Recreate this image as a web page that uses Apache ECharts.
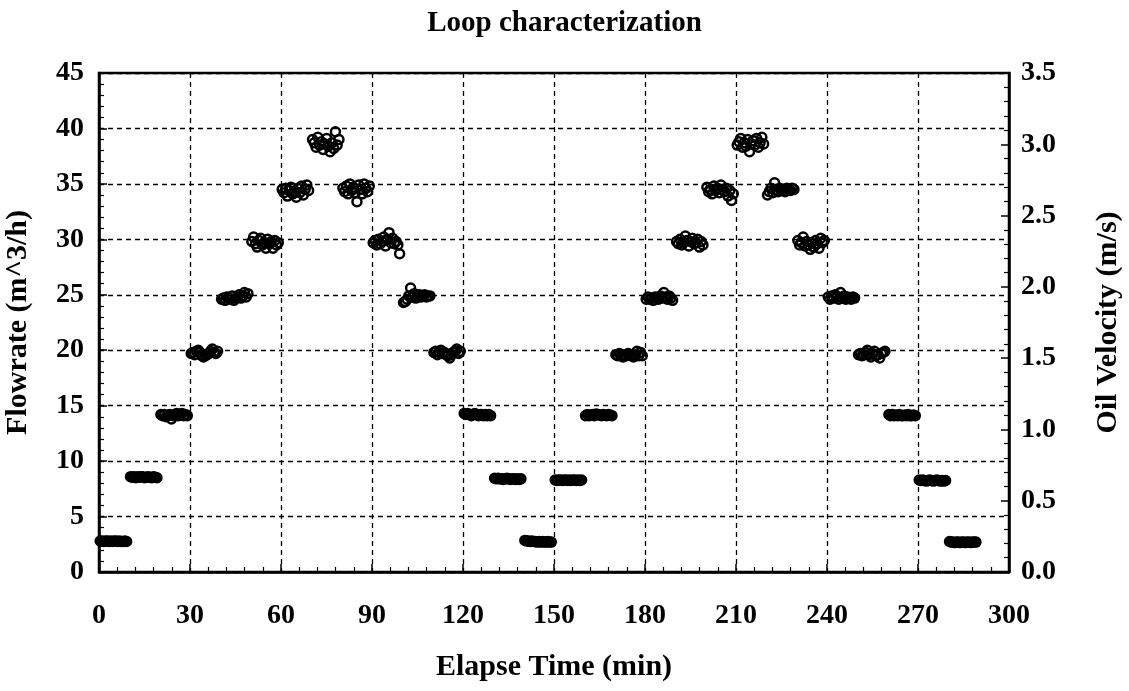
<!DOCTYPE html>
<html>
<head>
<meta charset="utf-8">
<script src="https://cdn.jsdelivr.net/npm/echarts@6/dist/echarts.min.js"></script>
<style>
  html, body { margin: 0; padding: 0; background: #fff; }
  #main { width: 1129px; height: 691px; }
</style>
</head>
<body>
<div id="main"></div>
<script>
// start of each flow step (min) and the sample spacing inside a step
var stepStart = [0, 10, 20, 30, 40, 50, 60, 70, 80, 90, 100, 110, 120, 130, 140,
                 150, 160, 170, 180, 190, 200, 210, 220, 230, 240, 250, 260, 270, 280];
var sampleOffset = 0.4;
var sampleInterval = 0.58;

// flowrate readings (m^3/h) for every step
var stepReadings = [
    [2.8, 2.8, 2.75, 2.8, 2.8, 2.75, 2.8, 2.75, 2.8, 2.8, 2.75, 2.8, 2.75, 2.75, 2.8, 2.75],
    [8.6, 8.55, 8.6, 8.5, 8.6, 8.55, 8.6, 8.6, 8.5, 8.55, 8.6, 8.55, 8.5, 8.6, 8.55, 8.5],
    [14.2, 14.1, 14.2, 14.0, 14.1, 14.2, 13.8, 14.1, 14.2, 14.3, 14.1, 14.2, 14.3, 14.1, 14.2, 14.1],
    [19.7, 19.8, 19.6, 19.9, 20.0, 19.8, 19.5, 19.4, 19.5, 19.6, 19.7, 19.9, 20.1, 19.8, 19.7, 19.9],
    [24.6, 24.7, 24.5, 24.8, 24.7, 24.6, 24.9, 24.5, 24.7, 24.8, 25.0, 24.7, 24.9, 25.2, 24.8, 25.1],
    [29.8, 30.2, 29.6, 29.3, 29.9, 30.1, 29.5, 29.7, 29.2, 30.0, 29.6, 29.8, 29.2, 29.9, 29.5, 29.7],
    [34.5, 34.2, 34.6, 33.9, 34.4, 34.7, 34.1, 34.3, 33.8, 34.6, 34.2, 34.8, 34.0, 34.5, 34.9, 34.4],
    [39.0, 38.7, 38.3, 39.2, 38.5, 38.8, 38.1, 38.6, 39.1, 38.4, 37.9, 38.7, 38.2, 39.7, 38.5, 39.0],
    [34.6, 34.3, 34.8, 34.1, 35.0, 34.4, 34.7, 34.2, 33.4, 34.9, 34.5, 34.1, 35.0, 34.6, 34.3, 34.8],
    [29.7, 29.9, 29.5, 30.0, 29.6, 29.8, 30.2, 29.4, 30.0, 30.6, 29.7, 30.1, 29.6, 29.8, 29.5, 28.7],
    [24.3, 24.4, 24.6, 24.9, 25.6, 24.8, 25.1, 24.7, 24.9, 25.0, 24.8, 24.9, 25.0, 24.8, 24.9, 24.9],
    [19.8, 19.9, 19.6, 19.8, 20.0, 19.7, 19.8, 19.6, 19.5, 19.3, 19.6, 19.8, 19.9, 20.1, 19.7, 19.9],
    [14.3, 14.2, 14.3, 14.2, 14.1, 14.2, 14.3, 14.2, 14.1, 14.2, 14.2, 14.1, 14.2, 14.1, 14.2, 14.1],
    [8.45, 8.4, 8.45, 8.4, 8.4, 8.35, 8.4, 8.45, 8.4, 8.35, 8.4, 8.4, 8.35, 8.4, 8.35, 8.4],
    [2.85, 2.8, 2.8, 2.75, 2.8, 2.75, 2.75, 2.7, 2.75, 2.7, 2.75, 2.7, 2.7, 2.75, 2.7, 2.7],
    [8.3, 8.25, 8.3, 8.3, 8.25, 8.3, 8.3, 8.25, 8.3, 8.25, 8.3, 8.3, 8.25, 8.3, 8.25, 8.3],
    [14.1, 14.2, 14.1, 14.15, 14.2, 14.1, 14.25, 14.2, 14.15, 14.1, 14.2, 14.15, 14.1, 14.2, 14.15, 14.1],
    [19.6, 19.5, 19.7, 19.5, 19.4, 19.6, 19.5, 19.7, 19.6, 19.5, 19.4, 19.6, 19.9, 19.5, 19.8, 19.5],
    [24.6, 24.8, 24.6, 24.7, 24.5, 24.8, 24.7, 24.6, 24.9, 24.7, 25.2, 24.8, 24.6, 24.9, 24.7, 24.5],
    [29.8, 29.6, 30.0, 29.5, 29.7, 30.3, 29.9, 29.4, 29.8, 30.1, 29.6, 29.7, 30.0, 29.3, 29.8, 29.5],
    [34.7, 34.3, 34.5, 34.1, 34.8, 34.4, 34.6, 34.2, 34.9, 34.5, 34.3, 34.6, 33.9, 34.4, 33.5, 34.1],
    [38.5, 38.8, 39.1, 38.3, 38.7, 38.4, 39.0, 37.9, 38.6, 38.9, 38.5, 39.1, 38.3, 38.7, 39.2, 38.6],
    [34.0, 34.3, 34.6, 34.2, 35.1, 34.5, 34.3, 34.6, 34.4, 34.5, 34.3, 34.6, 34.5, 34.4, 34.6, 34.5],
    [29.9, 29.5, 29.7, 30.2, 29.4, 29.8, 29.5, 29.1, 29.7, 29.3, 29.9, 29.6, 29.2, 30.1, 29.7, 29.9],
    [24.8, 24.6, 24.9, 24.7, 25.0, 24.8, 24.6, 25.2, 24.7, 24.9, 24.6, 24.8, 24.7, 24.6, 24.8, 24.7],
    [19.6, 19.7, 19.5, 19.6, 19.8, 20.0, 19.6, 19.4, 19.7, 19.9, 19.5, 19.6, 19.3, 19.7, 19.8, 19.9],
    [14.2, 14.1, 14.2, 14.1, 14.15, 14.1, 14.2, 14.1, 14.1, 14.15, 14.1, 14.2, 14.1, 14.1, 14.15, 14.1],
    [8.3, 8.25, 8.3, 8.25, 8.2, 8.25, 8.3, 8.25, 8.2, 8.25, 8.3, 8.25, 8.2, 8.25, 8.2, 8.25],
    [2.75, 2.7, 2.7, 2.65, 2.7, 2.7, 2.65, 2.7, 2.7, 2.65, 2.7, 2.7, 2.65, 2.7, 2.7, 2.7]
];

var xTicks = { min: 0, max: 300, interval: 30 };
var flowTicks = { min: 0, max: 45, interval: 5 };
var velTicks = { min: 0, max: 3.5, interval: 0.5 };

var points = [];
for (var k = 0; k < stepStart.length; k++) {
    for (var i = 0; i < stepReadings[k].length; i++) {
        points.push([stepStart[k] + sampleOffset + i * sampleInterval, stepReadings[k][i]]);
    }
}

var font = 'Liberation Serif';
var labelStyle = { color: '#000', fontFamily: font, fontWeight: 'bold', fontSize: 28 };
var nameStyle = { color: '#000', fontFamily: font, fontWeight: 'bold', fontSize: 30 };
var axisLine = { show: true, lineStyle: { color: '#000', width: 2.5 } };
var axisTick = { show: true, inside: true, length: 8, lineStyle: { color: '#000', width: 1.5 } };
var minorTick = { show: true, splitNumber: 5, length: 5, lineStyle: { color: '#000', width: 1.2 } };
var gridLine = { show: true, lineStyle: { color: '#000', width: 1.3, type: [5, 4] } };

var myChart = echarts.init(document.getElementById('main'));

option = {
    animation: false,
    backgroundColor: '#fff',
    title: {
        text: 'Loop characterization',
        left: 'center',
        top: 4,
        textStyle: { color: '#000', fontFamily: font, fontWeight: 'bold', fontSize: 29 }
    },
    grid: {
        left: 99, right: 120, top: 73, bottom: 119,
        containLabel: false,
        outerBoundsMode: 'none',
        show: true, borderColor: '#000', borderWidth: 2.5
    },
    xAxis: {
        type: 'value',
        min: xTicks.min, max: xTicks.max, interval: xTicks.interval,
        name: 'Elapse Time (min)',
        nameLocation: 'middle',
        nameGap: 80,
        nameTextStyle: nameStyle,
        axisLine: axisLine,
        axisTick: axisTick,
        minorTick: minorTick,
        splitLine: gridLine,
        axisLabel: Object.assign({ margin: 30 }, labelStyle)
    },
    yAxis: [{
        type: 'value',
        min: flowTicks.min, max: flowTicks.max, interval: flowTicks.interval,
        name: 'Flowrate (m^3/h)',
        nameLocation: 'middle',
        nameGap: 66,
        nameTextStyle: nameStyle,
        axisLine: axisLine,
        axisTick: axisTick,
        minorTick: minorTick,
        splitLine: gridLine,
        axisLabel: Object.assign({ margin: 15 }, labelStyle)
    }, {
        type: 'value',
        position: 'right',
        min: velTicks.min, max: velTicks.max, interval: velTicks.interval,
        name: 'Oil Velocity (m/s)',
        nameLocation: 'middle',
        nameGap: 84,
        nameRotate: 90,
        nameTextStyle: nameStyle,
        axisLine: axisLine,
        axisTick: axisTick,
        minorTick: minorTick,
        splitLine: { show: false },
        axisLabel: Object.assign({
            margin: 12,
            formatter: function(v) { return v.toFixed(1); }
        }, labelStyle)
    }],
    series: [{
        name: 'Flowrate',
        type: 'scatter',
        yAxisIndex: 0,
        symbol: 'circle',
        symbolSize: 9,
        itemStyle: { color: 'rgba(255,255,255,0)', borderColor: '#000', borderWidth: 2.5, opacity: 1 },
        data: points
    }]
};

myChart.setOption(option);
</script>
</body>
</html>
